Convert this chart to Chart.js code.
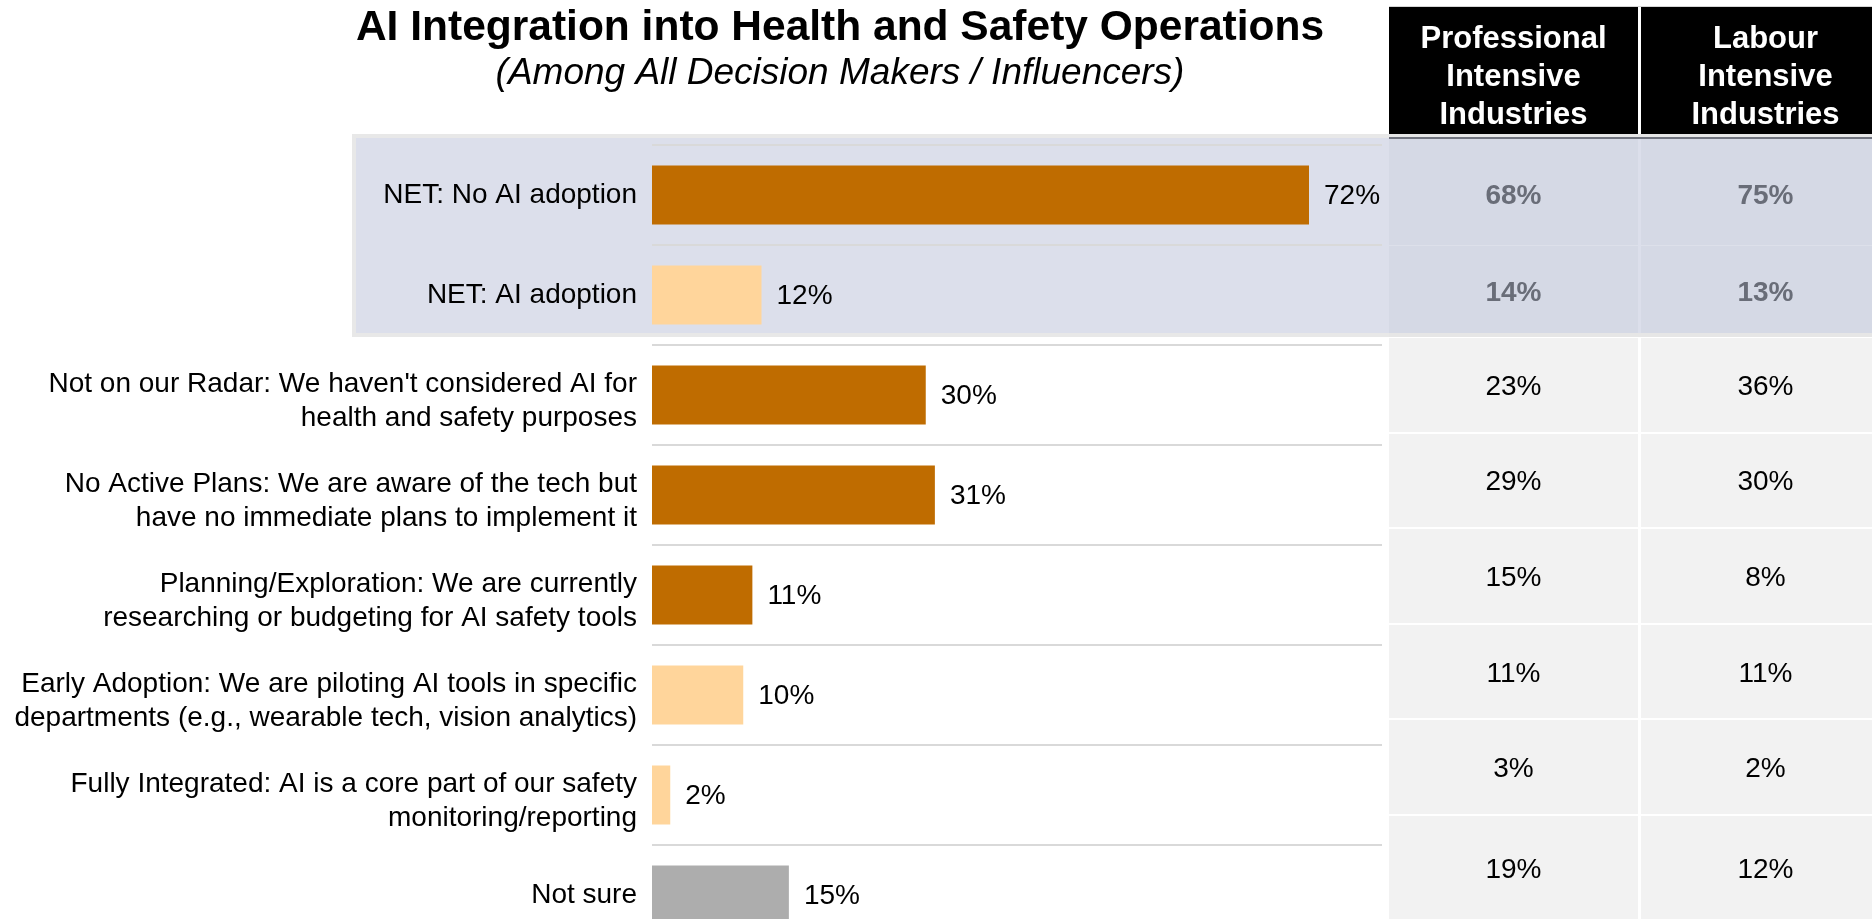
<!DOCTYPE html>
<html>
<head>
<meta charset="utf-8">
<title>AI Integration into Health and Safety Operations</title>
<script src="https://cdn.jsdelivr.net/npm/chart.js@4.4.1/dist/chart.umd.min.js"></script>
<style>
  html, body { margin: 0; padding: 0; background: #fff; overflow: hidden; }
  #chart { display: block; }
</style>
</head>
<body>
<canvas id="chart" width="1872" height="945"></canvas>
<script>
// ---------- data ----------
const categories = [
  ["NET: No AI adoption"],
  ["NET: AI adoption"],
  ["Not on our Radar: We haven't considered AI for", "health and safety purposes"],
  ["No Active Plans: We are aware of the tech but", "have no immediate plans to implement it"],
  ["Planning/Exploration: We are currently", "researching or budgeting for AI safety tools"],
  ["Early Adoption: We are piloting AI tools in specific", "departments (e.g., wearable tech, vision analytics)"],
  ["Fully Integrated: AI is a core part of our safety", "monitoring/reporting"],
  ["Not sure"]
];
// which group each answer belongs to (drives the bar colour)
const groups = ["none", "adopt", "none", "none", "none", "adopt", "adopt", "unsure"];
const allValues = [72, 12, 30, 31, 11, 10, 2, 15];

const tableHeaders = [
  ["Professional", "Intensive", "Industries"],
  ["Labour", "Intensive", "Industries"]
];
const professionalValues = [68, 14, 23, 29, 15, 11, 3, 19];
const labourValues = [75, 13, 36, 30, 8, 11, 2, 12];
const netRows = 2; // first rows are the NET summaries

// ---------- styles ----------
const FONT = "'Liberation Sans', Arial, Helvetica, sans-serif";
const groupColors = { none: "#bf6c00", adopt: "#ffd59b", unsure: "#adadad" };

// table layout
const colX = [1389, 1641];
const colW = [249, 249];
const headerTop = 7, headerBottom = 134;
const netTop = 139, netSplit = 245, netBottom = 333;
const rowTop = 338, rowStep = 95.6;

function drawTable(ctx) {
  // header
  ctx.fillStyle = "#d6d6d6";
  ctx.fillRect(colX[0], headerTop - 1, 1872 - colX[0], 1);
  colX.forEach((x, c) => {
    ctx.fillStyle = "#000";
    ctx.fillRect(x, headerTop, colW[c], headerBottom - headerTop);
    ctx.fillStyle = "#fff";
    ctx.font = "bold 31px " + FONT;
    ctx.textAlign = "center";
    ctx.textBaseline = "middle";
    tableHeaders[c].forEach((line, i) => {
      ctx.fillText(line, x + colW[c] / 2, 39 + i * 38);
    });
  });
  ctx.fillStyle = "#e6e6e6";
  ctx.fillRect(colX[0], headerBottom, 1872 - colX[0], 3);
  ctx.fillStyle = "#70737e";
  ctx.fillRect(colX[0], headerBottom + 3, 1872 - colX[0], 2);

  // NET rows (shaded)
  colX.forEach((x, c) => {
    ctx.fillStyle = "#d5d9e5";
    ctx.fillRect(x, netTop, colW[c], netBottom - netTop);
    ctx.fillStyle = "#dde0ea";
    ctx.fillRect(x, netSplit, colW[c], 1);
  });
  ctx.fillStyle = "#e6e6e6";
  ctx.fillRect(colX[0], netBottom, 1872 - colX[0], 4);

  // detail rows
  const n = categories.length - netRows;
  for (let r = 0; r < n; r++) {
    const top = Math.round(rowTop + r * rowStep);
    const h = r === n - 1 ? 200 : Math.round(rowTop + (r + 1) * rowStep) - top - 2;
    colX.forEach((x, c) => {
      ctx.fillStyle = "#f2f2f2";
      ctx.fillRect(x, top, colW[c], h);
    });
  }

  // values
  const cols = [professionalValues, labourValues];
  ctx.textAlign = "center";
  ctx.textBaseline = "middle";
  cols.forEach((vals, c) => {
    const cx = colX[c] + colW[c] / 2;
    vals.forEach((v, i) => {
      let y;
      if (i < netRows) {
        ctx.font = "bold 28px " + FONT;
        ctx.fillStyle = "#696d78";
        y = i === 0 ? 196 : 293;
      } else {
        const r = i - netRows;
        ctx.font = "28px " + FONT;
        ctx.fillStyle = "#000";
        // last cell runs off the bottom, so its text sits a little lower
        y = rowTop + r * rowStep + (r === n - 1 ? 54 : 49);
      }
      ctx.fillText(v + "%", cx, y);
    });
  });
}

// backdrop: titles, NET highlight box, side table
const backdrop = {
  id: "backdrop",
  beforeDraw(chart) {
    const ctx = chart.ctx;
    ctx.save();
    ctx.fillStyle = "#fff";
    ctx.fillRect(0, 0, chart.width, chart.height);

    // titles
    ctx.fillStyle = "#000";
    ctx.textAlign = "center";
    ctx.textBaseline = "alphabetic";
    ctx.font = "bold 42.5px " + FONT;
    ctx.fillText("AI Integration into Health and Safety Operations", 840, 40);
    ctx.font = "italic 37px " + FONT;
    ctx.fillText("(Among All Decision Makers / Influencers)", 840, 84);

    // highlight box behind the NET rows
    ctx.fillStyle = "#e8e8e8";
    ctx.fillRect(352, 134, 1872 - 352, 203);
    ctx.fillStyle = "#dcdfeb";
    ctx.fillRect(356, 138, 1872 - 356, 195);

    drawTable(ctx);
    ctx.restore();
  }
};

// category labels, right aligned against the bars; wrapped labels sit a bit lower
const categoryLabels = {
  id: "categoryLabels",
  afterDraw(chart) {
    const ctx = chart.ctx;
    const y = chart.scales.y;
    const lineH = 33.6;
    ctx.save();
    ctx.font = "28px " + FONT;
    ctx.fillStyle = "#000";
    ctx.textAlign = "right";
    ctx.textBaseline = "middle";
    categories.forEach((lines, i) => {
      const cy = y.getPixelForValue(i) + (lines.length > 1 ? 6 : 0);
      const first = cy - (lines.length - 1) * lineH / 2;
      lines.forEach((line, k) => ctx.fillText(line, chart.chartArea.left - 15, first + k * lineH));
    });
    ctx.restore();
  }
};

// percentage labels at the end of each bar
const barLabels = {
  id: "barLabels",
  afterDatasetsDraw(chart) {
    const ctx = chart.ctx;
    const meta = chart.getDatasetMeta(0);
    ctx.save();
    ctx.font = "28px " + FONT;
    ctx.fillStyle = "#000";
    ctx.textAlign = "left";
    ctx.textBaseline = "middle";
    meta.data.forEach((bar, i) => {
      ctx.fillText(allValues[i] + "%", bar.x + 15, bar.y + 1);
    });
    ctx.restore();
  }
};

new Chart(document.getElementById("chart"), {
  type: "bar",
  data: {
    labels: categories,
    datasets: [{
      data: allValues,
      backgroundColor: groups.map(g => groupColors[g]),
      borderWidth: 0,
      barPercentage: 0.59,
      categoryPercentage: 1
    }]
  },
  options: {
    indexAxis: "y",
    responsive: false,
    animation: false,
    devicePixelRatio: 1,
    layout: { padding: { left: 0, right: 490, top: 145, bottom: 0 } },
    plugins: {
      legend: { display: false },
      tooltip: { enabled: false }
    },
    scales: {
      x: { display: false, min: 0, max: 80 },
      y: {
        afterFit(scale) {
          scale.width = 652;
          // rows run right to the bottom edge; no room kept for label overhang
          scale.paddingTop = 0;
          scale.paddingBottom = 0;
        },
        border: { display: false },
        grid: { offset: true, color: "#d9d9d9", lineWidth: 2, drawTicks: false },
        ticks: { display: false, autoSkip: false }
      }
    }
  },
  plugins: [backdrop, categoryLabels, barLabels]
});
</script>
</body>
</html>
